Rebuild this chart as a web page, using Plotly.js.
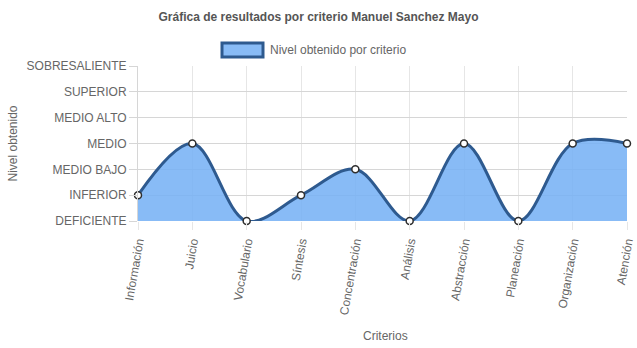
<!DOCTYPE html>
<html><head><meta charset="utf-8">
<script src="https://cdn.plot.ly/plotly-3.0.1.min.js"></script>
<style>html,body{margin:0;padding:0;background:#fff}#c{width:637px;height:348px}</style>
</head><body><div id="c"></div>
<script>
const criterios = ["Información","Juicio","Vocabulario","Síntesis","Concentración","Análisis","Abstracción","Planeación","Organización","Atención"];
const niveles = [1,3,0,1,2,0,3,0,3,3];
const nivelLabels = ["DEFICIENTE","INFERIOR","MEDIO BAJO","MEDIO","MEDIO ALTO","SUPERIOR","SOBRESALIENTE"];
const nivelVals = [0,1,2,3,4,5,6];
const serieNombre = "Nivel obtenido por criterio";

const font = {family:"Liberation Sans, Arial, sans-serif", size:12, color:"#666"};
const W = 637, L = 138, R = 10, PW = W - L - R;
const trace = {
  x: criterios, y: niveles, type:"scatter", mode:"lines+markers",
  line:{shape:"spline", smoothing:1, color:"#2e5a8f", width:3},
  marker:{size:7, color:"#fff", line:{color:"#2e2e2e", width:1.5}},
  fill:"tozeroy", fillcolor:"rgba(120,178,245,0.88)",
  showlegend:false, cliponaxis:false, hoverinfo:"skip"
};
const layout = {
  width:W, height:348,
  margin:{l:L, r:R, t:66, b:127},
  paper_bgcolor:"#fff", plot_bgcolor:"#fff",
  font:font,
  title:{text:"<b>Gráfica de resultados por criterio Manuel Sanchez Mayo</b>", font:{family:font.family,size:12,color:"#555"}, x:0.5, xref:"container", xanchor:"center", y:1-17/348, yref:"container", yanchor:"middle"},
  xaxis:{type:"category", range:[0,9], showgrid:true, gridcolor:"#e6e6e6", zeroline:false, showline:false,
    ticks:"outside", ticklen:8, tickcolor:"#e6e6e6", tickangle:-80, tickfont:font, fixedrange:true},
  yaxis:{range:[0,6], tickvals:nivelVals, ticktext:nivelLabels, showgrid:true, gridcolor:"#d6d6d6", zeroline:false,
    showline:true, linecolor:"#d6d6d6", ticks:"outside", ticklen:8, tickcolor:"#d6d6d6", tickfont:font, fixedrange:true},
  shapes:[
    {type:"rect", xref:"paper", yref:"paper", x0:(222-L)/PW, x1:(263-L)/PW, y0:1+(66-57)/155, y1:1+(66-43)/155,
     fillcolor:"rgba(120,178,245,0.88)", line:{color:"#2e5a8f", width:3}}
  ],
  annotations:[
    {text:serieNombre, xref:"paper", yref:"paper", x:(268-L)/PW, y:1+(66-50)/155, xanchor:"left", yanchor:"middle", showarrow:false, font:font},
    {text:"Criterios", xref:"paper", yref:"paper", x:(385-L)/PW, y:-(336-221)/155, xanchor:"center", yanchor:"middle", showarrow:false, font:font},
    {text:"Nivel obtenido", xref:"paper", yref:"paper", x:-(L-12)/PW, y:0.5, xanchor:"center", yanchor:"middle", textangle:-90, showarrow:false, font:font}
  ]
};
Plotly.newPlot("c",[trace],layout,{displayModeBar:false,staticPlot:true});
</script></body></html>
